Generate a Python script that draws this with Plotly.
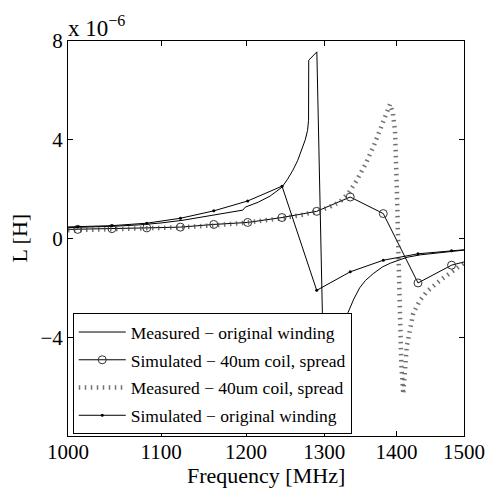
import math
import plotly.graph_objects as go

# Simulation frequency grid (MHz); the first and last points sit just outside the axis range
sim_freq = [975, 1010, 1046, 1084, 1122, 1161, 1202, 1245, 1290, 1335, 1381, 1431, 1481, 1534]
sim_40um = [0.35, 0.37, 0.40, 0.43, 0.46, 0.57, 0.65, 0.85, 1.10, 1.68, 1.01, -1.80, -1.08, -0.72]
sim_orig = [0.44, 0.47, 0.52, 0.62, 0.82, 1.12, 1.52, 2.12, -2.10, -1.35, -0.88, -0.62, -0.50, -0.38]

# Measured inductance, original winding (x 1e-6 H)
meas_orig_freq = [1000, 1025, 1050, 1075, 1100, 1125, 1150, 1175, 1185, 1196, 1199, 1215, 1230,
                  1245, 1252, 1259, 1265, 1270, 1275, 1278, 1279.3, 1279.5, 1290.2, 1300.5,
                  1305, 1310, 1315, 1320, 1326, 1332, 1340, 1348, 1356, 1367, 1380, 1391, 1405,
                  1415, 1435, 1455, 1478, 1500]
meas_orig = [0.44, 0.46, 0.50, 0.55, 0.63, 0.74, 0.88, 1.02, 1.08, 1.15, 1.27, 1.47, 1.72,
             2.08, 2.40, 2.77, 3.15, 3.57, 4.00, 4.38, 4.79, 7.22, 7.56, -7.3,
             -6.3, -5.4, -4.7, -4.1, -3.5, -3.0, -2.45, -2.0, -1.7, -1.42, -1.15, -1.0, -0.85,
             -0.76, -0.66, -0.60, -0.53, -0.47]

# Measured inductance, 40um coil spread (x 1e-6 H)
meas_40um_freq = [1000, 1040, 1080, 1120, 1160, 1200, 1240, 1270, 1290, 1305, 1321, 1333, 1344,
                  1356, 1367, 1375, 1381, 1386, 1390.6, 1394.5, 1397.7, 1400.0, 1402.3, 1404.5,
                  1406.7, 1409.5, 1411.9, 1414.5, 1419.3, 1423.9, 1434, 1444, 1464, 1484, 1500]
meas_40um = [0.33, 0.36, 0.40, 0.45, 0.53, 0.64, 0.80, 0.95, 1.10, 1.25, 1.48, 1.85, 2.36,
             3.0, 3.71, 4.30, 4.79, 5.20, 5.44, 5.10, 4.38, 2.36, -0.34, -3.04,
             -5.06, -6.3, -5.2, -4.39, -3.71, -3.04, -2.5, -2.15, -1.69, -1.28, -0.99]

scale = 1e-6
x_ticks = [1000, 1100, 1200, 1300, 1400, 1500]
y_ticks = [-4, 0, 4, 8]

FONT = "Liberation Serif"


def sc(vals):
    return [v * scale for v in vals]


fig = go.Figure()

fig.add_trace(go.Scatter(
    x=meas_orig_freq, y=sc(meas_orig), mode="lines",
    name="Measured − original winding", legendgroup="a",
    line=dict(color="black", width=1),
))
fig.add_trace(go.Scatter(
    x=sim_freq, y=sc(sim_40um), mode="lines+markers",
    name="Simulated − 40um coil, spread", legendgroup="b",
    line=dict(color="black", width=1),
    marker=dict(symbol="circle-open", size=8, color="#333", line=dict(width=1)),
))
fig.add_trace(go.Scatter(
    x=meas_40um_freq, y=sc(meas_40um), mode="lines",
    name="Measured − 40um coil, spread", legendgroup="c",
    line=dict(color="#444", width=4.5, dash="1.5px,4.5px"),
    opacity=0.75,
))
fig.add_trace(go.Scatter(
    x=sim_freq, y=sc(sim_orig), mode="lines+markers",
    name="Simulated − original winding", legendgroup="d",
    line=dict(color="black", width=1),
    marker=dict(symbol="circle", size=3, color="black"),
))

fig.update_xaxes(
    type="log",
    range=[math.log10(1000), math.log10(1500)],
    tickvals=x_ticks, ticktext=[str(v) for v in x_ticks],
    ticks="inside", ticklen=5, tickcolor="black", ticklabelstandoff=-3,
    showline=True, linecolor="black", linewidth=1, mirror="ticks",
    showgrid=False, zeroline=False, automargin=False,
    tickfont=dict(family=FONT, size=21, color="black"),
)
fig.update_yaxes(
    range=[-8 * scale, 8 * scale],
    tickvals=[v * scale for v in y_ticks],
    ticktext=[str(v).replace("-", "−") for v in y_ticks],
    ticks="inside", ticklen=5, tickcolor="black",
    showline=True, linecolor="black", linewidth=1, mirror="ticks",
    showgrid=False, zeroline=False, automargin=False,
    tickfont=dict(family=FONT, size=21, color="black"),
)

# Axis titles and the exponent label
fig.add_annotation(
    text="Frequency [MHz]", xref="paper", yref="paper",
    x=0.5, y=0, xanchor="center", yanchor="middle", yshift=-39,
    showarrow=False, font=dict(family=FONT, size=22, color="black"),
)
fig.add_annotation(
    text="L [H]", xref="paper", yref="paper", textangle=-90,
    x=0, y=0.5, xanchor="center", yanchor="middle", xshift=-49,
    showarrow=False, font=dict(family=FONT, size=22, color="black"),
)
fig.add_annotation(
    text="x 10<sup>−6</sup>", xref="paper", yref="paper",
    x=0, y=1.0, xanchor="left", yanchor="bottom", yshift=-2, xshift=-2,
    showarrow=False, font=dict(family=FONT, size=23, color="black"),
)

fig.update_layout(
    width=488, height=488,
    margin=dict(l=68, r=24, t=41, b=52, autoexpand=False),
    paper_bgcolor="white", plot_bgcolor="white",
    showlegend=True,
    legend=dict(
        x=0.012, y=0.311, xanchor="left", yanchor="top",
        bgcolor="white", bordercolor="black", borderwidth=1,
        font=dict(family=FONT, size=17.5, color="black"),
        itemwidth=47, tracegroupgap=2,
    ),
)

fig.write_html("out.html")
